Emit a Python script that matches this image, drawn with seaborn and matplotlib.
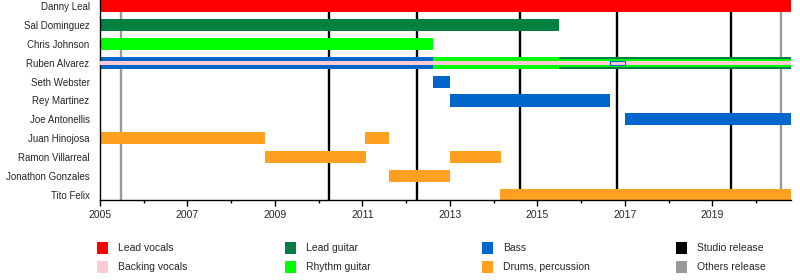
import matplotlib
matplotlib.use("Agg")
import matplotlib.pyplot as plt
import seaborn as sns
import pandas as pd
from matplotlib.patches import Rectangle

# ---- data ----
members = ["Danny Leal", "Sal Dominguez", "Chris Johnson", "Ruben Alvarez",
           "Seth Webster", "Rey Martinez", "Joe Antonellis", "Juan Hinojosa",
           "Ramon Villarreal", "Jonathon Gonzales", "Tito Felix"]

START = 2005.0
END = 2020.8

seg_member = ["Danny Leal", "Sal Dominguez", "Chris Johnson",
              "Ruben Alvarez", "Ruben Alvarez", "Ruben Alvarez", "Ruben Alvarez",
              "Seth Webster", "Rey Martinez", "Joe Antonellis",
              "Juan Hinojosa", "Juan Hinojosa", "Ramon Villarreal", "Ramon Villarreal",
              "Jonathon Gonzales", "Tito Felix"]
seg_role = ["Lead vocals", "Lead guitar", "Rhythm guitar",
            "Bass", "Rhythm guitar", "Lead guitar", "Rhythm guitar",
            "Bass", "Bass", "Bass",
            "Drums, percussion", "Drums, percussion", "Drums, percussion", "Drums, percussion",
            "Drums, percussion", "Drums, percussion"]
seg_start = [2005.0, 2005.0, 2005.0,
             2005.0, 2012.61, 2015.5, 2015.5,
             2012.61, 2013.0, 2017.0,
             2005.0, 2011.06, 2008.77, 2013.0,
             2011.6, 2014.15]
seg_end = [END, 2015.5, 2012.61,
           2012.61, 2015.5, END, END,
           2013.0, 2016.67, END,
           2008.78, 2011.61, 2011.08, 2014.16,
           2013.0, END]
seg_level = ["full", "full", "full",
             "full", "full", "full", "inner",
             "full", "full", "full",
             "full", "full", "full", "full",
             "full", "full"]

# secondary thin stripes (Ruben Alvarez)
stripe_member = ["Ruben Alvarez", "Ruben Alvarez"]
stripe_role = ["Backing vocals", "Bass"]
stripe_start = [2005.0, 2016.65]
stripe_end = [END, 2017.0]

studio_releases = [2010.24, 2012.25, 2014.61, 2016.82, 2019.42]
other_releases = [2005.48, 2020.56]

legend_roles = ["Lead vocals", "Backing vocals", "Lead guitar", "Rhythm guitar",
                "Bass", "Drums, percussion", "Studio release", "Others release"]

colors = {
    "Lead vocals": "#FF0000",
    "Backing vocals": "#FFCAD6",
    "Lead guitar": "#008040",
    "Rhythm guitar": "#00FF00",
    "Bass": "#0066CC",
    "Drums, percussion": "#FFA020",
    "Studio release": "#000000",
    "Others release": "#999999",
}

df = pd.DataFrame({"member": seg_member, "role": seg_role,
                   "start": seg_start, "end": seg_end, "level": seg_level})
sdf = pd.DataFrame({"member": stripe_member, "role": stripe_role,
                    "start": stripe_start, "end": stripe_end})

# ---- figure ----
sns.set_theme(style="white")
plt.rcParams["font.family"] = ["Liberation Sans", "DejaVu Sans"]

fig = plt.figure(figsize=(8, 2.8), dpi=100)
ax = fig.add_axes([100 / 800, 1 - 200 / 280, 691 / 800, 200 / 280])

ypos = {m: i for i, m in enumerate(members)}
BAR_H = 0.64
INNER_H = 0.44
STRIPE_H = 0.21

for x in studio_releases:
    ax.axvline(x, color=colors["Studio release"], lw=1.7, zorder=1)
for x in other_releases:
    ax.axvline(x, color=colors["Others release"], lw=1.7, zorder=1)

for _, r in df.iterrows():
    h = BAR_H if r["level"] == "full" else INNER_H
    z = 2 if r["level"] == "full" else 3
    ax.barh(ypos[r["member"]], r["end"] - r["start"], left=r["start"], height=h,
            color=colors[r["role"]], edgecolor="none", linewidth=0, zorder=z)

for _, r in sdf.iterrows():
    if r["role"] == "Backing vocals":
        ax.barh(ypos[r["member"]], r["end"] - r["start"], left=r["start"], height=STRIPE_H,
                color=colors[r["role"]], edgecolor="none", linewidth=0, zorder=4)
    else:
        ax.barh(ypos[r["member"]], r["end"] - r["start"], left=r["start"], height=STRIPE_H,
                color=colors["Backing vocals"], edgecolor=colors[r["role"]], linewidth=0.8,
                zorder=5)

ax.set_xlim(START, END)
ax.set_ylim(10.27, -0.32)
ax.set_yticks(range(len(members)))
ax.set_yticklabels(members, fontsize=7)
ax.tick_params(axis="y", length=0, pad=7.5)

major = list(range(2005, 2021, 2))
minor = list(range(2006, 2021, 2))
ax.set_xticks(major)
ax.set_xticklabels([str(y) for y in major], fontsize=7.5)
ax.set_xticks(minor, minor=True)
ax.tick_params(axis="x", which="major", length=4, width=1, color="black", pad=3,
               bottom=True, direction="out")
ax.tick_params(axis="x", which="minor", length=2.5, width=1, color="black",
               bottom=True, direction="out")
ax.grid(False)
sns.despine(ax=ax, top=True, right=True)
for s in ["left", "bottom"]:
    ax.spines[s].set_color("black")
    ax.spines[s].set_linewidth(1.0)
ax.set_xlabel("")
ax.set_ylabel("")

# ---- legend ----
col_x = [97, 285, 482, 676]
row_y = [248, 267]
for i, role in enumerate(legend_roles):
    c, rr = divmod(i, 2)
    x0, yc = col_x[c], row_y[rr]
    fig.patches.append(Rectangle((x0 / 800, 1 - (yc + 6) / 280), 11 / 800, 12 / 280,
                                 transform=fig.transFigure, facecolor=colors[role],
                                 edgecolor="none"))
    fig.text((x0 + 21) / 800, 1 - yc / 280, role, fontsize=7.5, va="center", ha="left")

fig.savefig("out.png", dpi=100, facecolor="white")
